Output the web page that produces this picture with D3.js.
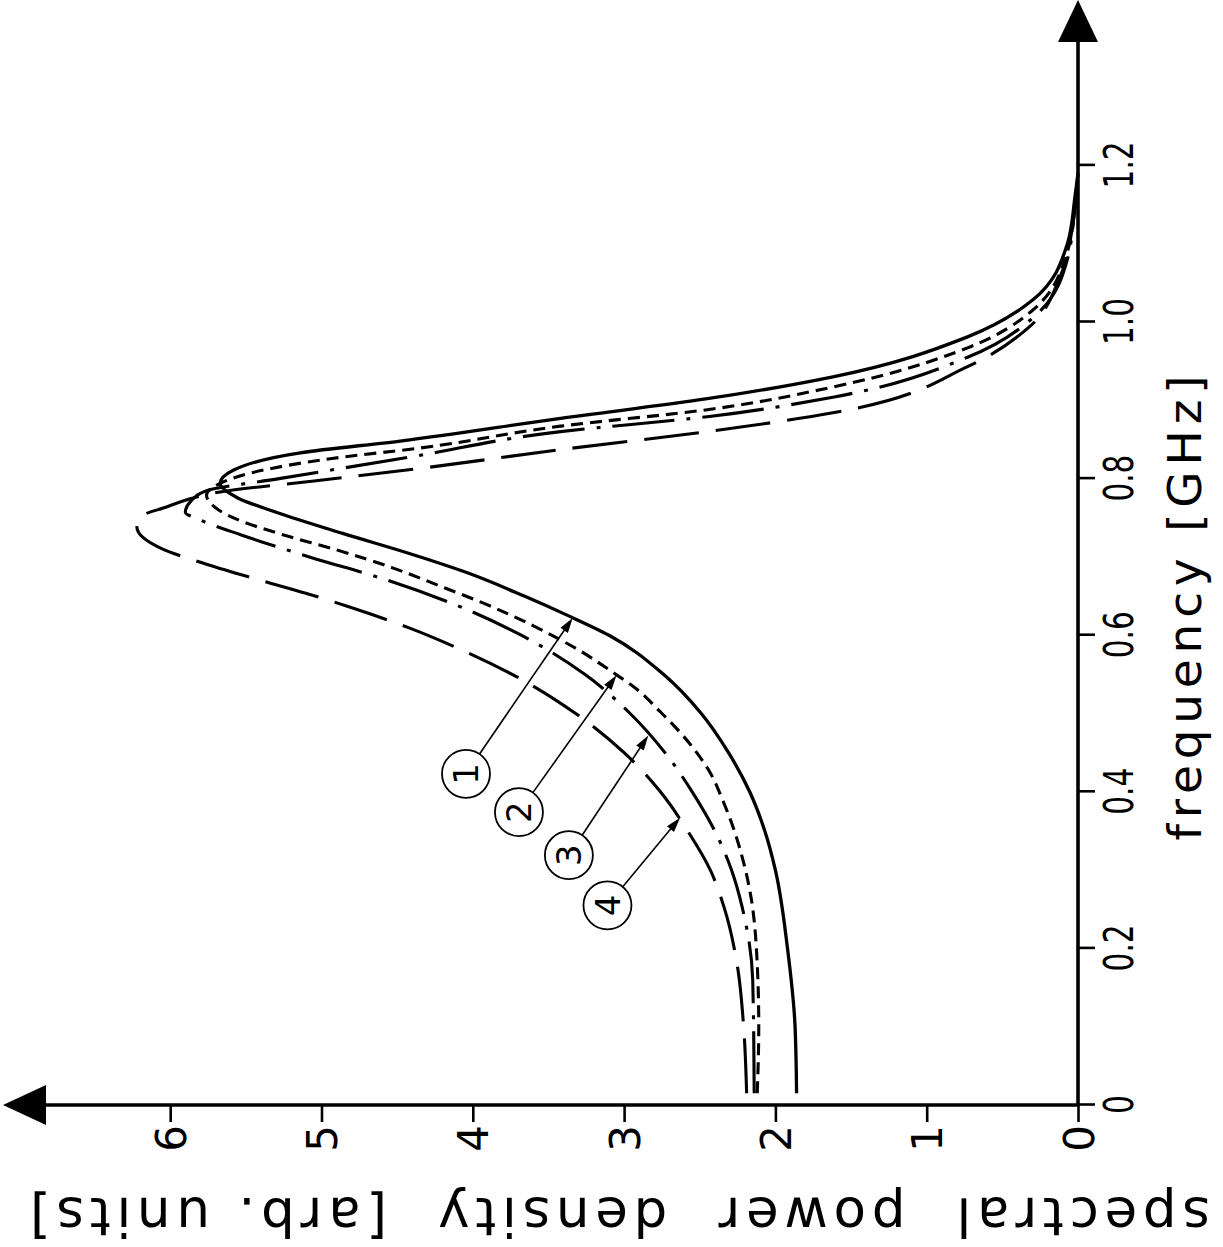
<!DOCTYPE html>
<html>
<head>
<meta charset="utf-8">
<script src="https://cdn.jsdelivr.net/npm/d3@7"></script>
<style>
  body { margin: 0; background: #fff; }
  svg { display: block; }
  text { font-family: "DejaVu Sans", "Liberation Sans", sans-serif; fill: #000; }
</style>
</head>
<body>
<div id="chart"></div>
<script>
var svgWidth = 1223;
var svgHeight = 1247;

// Curve 1 (solid)
var freq1 = [0.015, 0.10, 0.20, 0.30, 0.35, 0.40, 0.45, 0.50, 0.55, 0.60, 0.625, 0.65, 0.68, 0.705, 0.73, 0.757, 0.775, 0.794, 0.811, 0.833, 0.848, 0.877, 0.902, 0.930, 0.981, 1.028, 1.10, 1.16, 1.19];
var dens1 = [1.86, 1.87, 1.92, 2.00, 2.07, 2.17, 2.31, 2.49, 2.74, 3.10, 3.37, 3.66, 4.04, 4.43, 4.86, 5.30, 5.55, 5.67, 5.58, 5.14, 4.48, 3.42, 2.45, 1.62, 0.73, 0.30, 0.07, 0.02, 0.0];

// Curve 2 (short dashes)
var freq2 = [0.015, 0.10, 0.18, 0.275, 0.317, 0.355, 0.390, 0.424, 0.450, 0.476, 0.502, 0.530, 0.552, 0.581, 0.612, 0.641, 0.660, 0.686, 0.709, 0.728, 0.745, 0.760, 0.779, 0.793, 0.807, 0.826, 0.839, 0.867, 0.888, 0.917, 0.967, 1.015, 1.09, 1.15, 1.19];
var dens2 = [2.12, 2.11, 2.12, 2.17, 2.22, 2.28, 2.35, 2.43, 2.52, 2.63, 2.76, 2.91, 3.07, 3.30, 3.60, 3.93, 4.18, 4.53, 4.90, 5.25, 5.52, 5.68, 5.76, 5.68, 5.47, 4.92, 4.35, 3.42, 2.45, 1.62, 0.73, 0.30, 0.07, 0.02, 0.0];

// Curve 3 (dash-dot)
var freq3 = [0.015, 0.160, 0.253, 0.30, 0.338, 0.40, 0.45, 0.50, 0.55, 0.60, 0.64, 0.67, 0.70, 0.728, 0.747, 0.757, 0.772, 0.785, 0.800, 0.828, 0.860, 0.879, 0.904, 0.955, 1.005, 1.08, 1.15, 1.19];
var dens3 = [2.14, 2.15, 2.22, 2.29, 2.37, 2.55, 2.73, 2.96, 3.26, 3.68, 4.13, 4.56, 5.08, 5.53, 5.80, 5.90, 5.86, 5.75, 5.28, 4.40, 3.42, 2.45, 1.62, 0.73, 0.30, 0.07, 0.02, 0.0];

// Curve 4 (long dashes)
var freq4 = [0.015, 0.10, 0.176, 0.253, 0.30, 0.35, 0.40, 0.45, 0.50, 0.55, 0.58, 0.61, 0.637, 0.654, 0.670, 0.690, 0.711, 0.725, 0.738, 0.752, 0.764, 0.773, 0.783, 0.797, 0.813, 0.837, 0.860, 0.884, 0.943, 0.994, 1.057, 1.13, 1.19];
var dens4 = [2.19, 2.21, 2.25, 2.34, 2.43, 2.58, 2.76, 3.00, 3.32, 3.74, 4.06, 4.43, 4.83, 5.11, 5.40, 5.75, 6.06, 6.18, 6.22, 6.19, 6.02, 5.89, 5.67, 5.05, 4.35, 3.42, 2.45, 1.62, 0.73, 0.32, 0.12, 0.03, 0.0];

var freqTicks = [0, 0.2, 0.4, 0.6, 0.8, 1.0, 1.2];
var densTicks = [0, 1, 2, 3, 4, 5, 6];

// numbered callouts: circle position and arrow tip, in data units
var calloutNames = ["1", "2", "3", "4"];
var calloutFreq = [0.423, 0.374, 0.319, 0.255];
var calloutDens = [4.045, 3.695, 3.365, 3.11];
var arrowFreq = [0.622, 0.549, 0.472, 0.367];
var arrowDens = [3.34, 3.05, 2.84, 2.63];

var xTitle = "frequency [GHz]";
var yTitle = "spectral  power  density  [arb. units]";

var svg = d3.select("#chart")
  .append("svg")
  .attr("width", svgWidth)
  .attr("height", svgHeight);

svg.append("rect")
  .attr("width", svgWidth)
  .attr("height", svgHeight)
  .attr("fill", "#fff");

// the plot is drawn upright, then turned a quarter turn counter-clockwise
var chartGroup = svg.append("g")
  .attr("transform", `translate(0, ${svgHeight}) rotate(-90)`);

var xScale = d3.scaleLinear()
  .domain([0, 1.2])
  .range([142, 1081.6]);

var yScale = d3.scaleLinear()
  .domain([0, 6])
  .range([1078, 170.2]);

var x0 = xScale(0);
var y0 = yScale(0);

// axes
var bottomAxis = d3.axisBottom(xScale)
  .tickValues(freqTicks)
  .tickSize(17)
  .tickPadding(9)
  .tickFormat(d => d === 0 ? "0" : d3.format(".1f")(d));

var leftAxis = d3.axisLeft(yScale)
  .tickValues(densTicks)
  .tickSize(17)
  .tickPadding(3)
  .tickFormat(d3.format("d"));

var xAxisG = chartGroup.append("g")
  .attr("transform", `translate(0, ${y0})`)
  .call(bottomAxis);

var yAxisG = chartGroup.append("g")
  .attr("transform", `translate(${x0}, 0)`)
  .call(leftAxis);

[xAxisG, yAxisG].forEach(function(g) {
  g.attr("font-size", null).attr("font-family", null);
  g.select(".domain").remove();
  g.selectAll(".tick line").attr("stroke", "#000").attr("stroke-width", 2.6);
  g.selectAll(".tick text").attr("fill", "#000");
});

// narrow lettering for the frequency numbers
xAxisG.selectAll(".tick text")
  .attr("font-size", 41)
  .attr("textLength", d => {
    var s = d === 0 ? "0" : d3.format(".1f")(d);
    return s.replace(/\./g, "").length * 19 + (s.indexOf(".") >= 0 ? 9 : 0);
  })
  .attr("lengthAdjust", "spacingAndGlyphs");

yAxisG.selectAll(".tick text")
  .attr("font-size", 42)
  .attr("dy", "0.36em");

// axis lines with arrow heads
chartGroup.append("line")
  .attr("x1", x0).attr("y1", y0)
  .attr("x2", svgHeight - 40).attr("y2", y0)
  .attr("stroke", "#000").attr("stroke-width", 3.6);

chartGroup.append("path")
  .attr("d", `M${svgHeight},${y0} L${svgHeight - 42},${y0 - 20} L${svgHeight - 42},${y0 + 20} Z`)
  .attr("fill", "#000");

chartGroup.append("line")
  .attr("x1", x0).attr("y1", y0)
  .attr("x2", x0).attr("y2", 44)
  .attr("stroke", "#000").attr("stroke-width", 3.6);

chartGroup.append("path")
  .attr("d", `M${x0},3 L${x0 - 20},46 L${x0 + 20},46 Z`)
  .attr("fill", "#000");

// axis titles
chartGroup.append("text")
  .attr("x", 639)
  .attr("y", 1201)
  .attr("text-anchor", "middle")
  .attr("font-size", 47)
  .attr("textLength", 465)
  .attr("lengthAdjust", "spacing")
  .text(xTitle);

chartGroup.append("text")
  .attr("transform", `translate(49, 620) rotate(-90)`)
  .attr("text-anchor", "middle")
  .attr("font-size", 53)
  .attr("textLength", 1180)
  .attr("lengthAdjust", "spacing")
  .style("white-space", "pre")
  .text(yTitle);

// curves
var series = [
  { f: freq1, d: dens1 },
  { f: freq2, d: dens2 },
  { f: freq3, d: dens3 },
  { f: freq4, d: dens4 }
];
var dashes = [null, "12,7", "62,12,4,12", "55,17"];
var widths = [3.3, 3.1, 3.1, 3.1];

var line = d3.line()
  .x(p => xScale(p[0]))
  .y(p => yScale(p[1]))
  .curve(d3.curveMonotoneX);

chartGroup.selectAll(".curve")
  .data(series)
  .enter()
  .append("path")
  .attr("class", "curve")
  .attr("d", s => line(s.f.map((f, i) => [f, s.d[i]])))
  .attr("fill", "none")
  .attr("stroke", "#000")
  .attr("stroke-width", (s, i) => widths[i])
  .attr("stroke-dasharray", (s, i) => dashes[i]);

// numbered callouts
var r = 24;
calloutNames.forEach(function(name, i) {
  var cx = xScale(calloutFreq[i]), cy = yScale(calloutDens[i]);
  var tx = xScale(arrowFreq[i]), ty = yScale(arrowDens[i]);
  var len = Math.hypot(tx - cx, ty - cy);
  var ux = (tx - cx) / len, uy = (ty - cy) / len;
  var px = -uy, py = ux;

  chartGroup.append("line")
    .attr("x1", cx + ux * r).attr("y1", cy + uy * r)
    .attr("x2", tx - ux * 10).attr("y2", ty - uy * 10)
    .attr("stroke", "#000").attr("stroke-width", 1.6);

  var bx = tx - ux * 15, by = ty - uy * 15;
  chartGroup.append("path")
    .attr("d", `M${tx},${ty} L${bx + px * 4.5},${by + py * 4.5} L${bx - px * 4.5},${by - py * 4.5} Z`)
    .attr("fill", "#000");

  chartGroup.append("circle")
    .attr("cx", cx).attr("cy", cy).attr("r", r)
    .attr("fill", "#fff")
    .attr("stroke", "#000").attr("stroke-width", 1.8);

  chartGroup.append("text")
    .attr("x", cx).attr("y", cy)
    .attr("dy", "0.36em")
    .attr("text-anchor", "middle")
    .attr("font-size", 34)
    .text(name);
});
</script>
</body>
</html>
